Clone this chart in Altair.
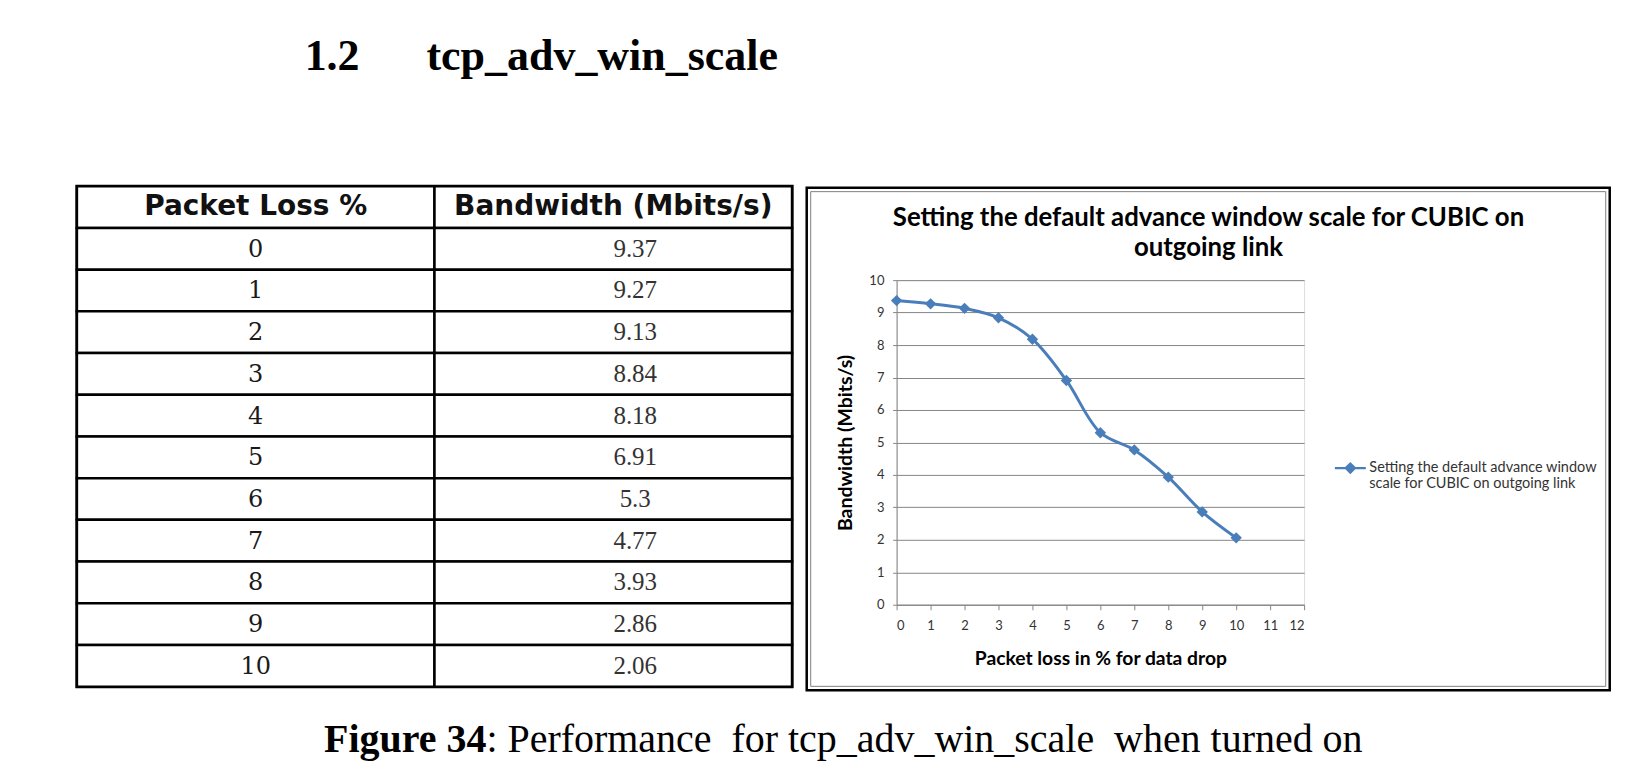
import altair as alt
import pandas as pd

# ---------------- data ----------------
HEADING_NUM = "1.2"
HEADING_TEXT = "tcp_adv_win_scale"
COL_KEYS = ["loss", "bw"]
COL_HEADERS = ["Packet Loss %", "Bandwidth (Mbits/s)"]
PACKET_LOSS = [0, 1, 2, 3, 4, 5, 6, 7, 8, 9, 10]
BANDWIDTH = [9.37, 9.27, 9.13, 8.84, 8.18, 6.91, 5.3, 4.77, 3.93, 2.86, 2.06]
CHART_TITLE = ["Setting the default advance window scale for CUBIC on", "outgoing link"]
SERIES_NAME = "Setting the default advance window scale for CUBIC on outgoing link"
X_TITLE = "Packet loss in % for data drop"
Y_TITLE = "Bandwidth (Mbits/s)"
X_TICKS = list(range(0, 13))
Y_TICKS = list(range(0, 11))
CAPTION_BOLD = "Figure 34"
CAPTION_REST = ": Performance\u00a0 for tcp_adv_win_scale\u00a0 when turned on"

BLUE = "#4A7EBB"
GRID = "#868686"

one = pd.DataFrame({"k": [0]})


def spacer(w, h):
    return alt.Chart(one).mark_text(opacity=0).encode(
        x=alt.value(0), y=alt.value(0), text=alt.value("")
    ).properties(width=w, height=h,
                 view=alt.ViewBackground(stroke="transparent", strokeWidth=0, fill="transparent"))


# ---------------- table (with page heading and caption around it) ----------------
row_keys = ["header"] + [str(v) for v in PACKET_LOSS]
cells = pd.DataFrame([{"row": r, "col": c} for r in row_keys for c in COL_KEYS])
hdr = pd.DataFrame({"row": ["header", "header"], "col": COL_KEYS, "text": COL_HEADERS})
body = pd.DataFrame(
    [{"row": str(l), "col": "loss", "text": str(l)} for l in PACKET_LOSS]
    + [{"row": str(l), "col": "bw", "text": str(b)} for l, b in zip(PACKET_LOSS, BANDWIDTH)]
)

tx = alt.X("col:N", scale=alt.Scale(domain=COL_KEYS, paddingInner=0, paddingOuter=0), axis=None)
ty = alt.Y("row:N", scale=alt.Scale(domain=row_keys, paddingInner=0, paddingOuter=0), axis=None)

canvas = alt.Chart(one).mark_rect(opacity=0).encode(
    x=alt.value(-67), x2=alt.value(1555), y=alt.value(-176), y2=alt.value(580))
cell_layer = alt.Chart(cells).mark_rect(fill="white", stroke="black", strokeWidth=2.5).encode(x=tx, y=ty)
hdr_layer = alt.Chart(hdr).mark_text(font="DejaVu Sans", fontSize=28, fontWeight="bold",
                                     color="#111", baseline="middle").encode(x=tx, y=ty, text="text:N")
c1_layer = alt.Chart(body).transform_filter(alt.datum.col == "loss").mark_text(
    font="DejaVu Serif", fontSize=24, color="#1a1a1a", baseline="middle", dy=1).encode(x=tx, y=ty, text="text:N")
c2_layer = alt.Chart(body).transform_filter(alt.datum.col == "bw").mark_text(
    font="Liberation Serif", fontSize=25, color="#333", baseline="middle", dx=22).encode(x=tx, y=ty, text="text:N")

head1 = alt.Chart(one).mark_text(font="Liberation Serif", fontSize=44, fontWeight="bold",
                                 align="left", baseline="alphabetic", color="black").encode(
    x=alt.value(228), y=alt.value(-116), text=alt.value(HEADING_NUM))
head2 = alt.Chart(one).mark_text(font="Liberation Serif", fontSize=44, fontWeight="bold",
                                 align="left", baseline="alphabetic", color="black").encode(
    x=alt.value(350), y=alt.value(-116), text=alt.value(HEADING_TEXT))
cap1 = alt.Chart(one).mark_text(font="Liberation Serif", fontSize=40, fontWeight="bold",
                                align="right", baseline="alphabetic", color="black").encode(
    x=alt.value(410), y=alt.value(566), text=alt.value(CAPTION_BOLD))
cap2 = alt.Chart(one).mark_text(font="Liberation Serif", fontSize=40, align="left",
                                baseline="alphabetic", color="black").encode(
    x=alt.value(410), y=alt.value(566), text=alt.value(CAPTION_REST))

table = alt.layer(canvas, cell_layer, hdr_layer, c1_layer, c2_layer, head1, head2, cap1, cap2).properties(
    width=716, height=501, view=alt.ViewBackground(stroke="black", strokeWidth=3))

# ---------------- line chart ----------------
df = pd.DataFrame({"loss": PACKET_LOSS, "bw": BANDWIDTH, "series": [SERIES_NAME] * len(PACKET_LOSS)})

x = alt.X("loss:Q", scale=alt.Scale(domain=[0, 12], nice=False),
          axis=alt.Axis(values=X_TICKS, title=X_TITLE, grid=False, format="d",
                        labelFont="Lato", labelFontSize=13, labelColor="#333",
                        tickColor=GRID, domainColor=GRID, tickSize=5, labelPadding=10,
                        titleFont="Lato", titleFontSize=19.3, titleFontWeight="bold", titleColor="black",
                        titleX=204, titleY=53.7, titleBaseline="middle"))
y = alt.Y("bw:Q", scale=alt.Scale(domain=[0, 10], nice=False),
          axis=alt.Axis(values=Y_TICKS, title=Y_TITLE, grid=True, gridColor=GRID, gridWidth=1,
                        format="d", labelFont="Lato", labelFontSize=13, labelColor="#333",
                        tickColor=GRID, domainColor=GRID, tickSize=4, labelPadding=8.7,
                        titleFont="Lato", titleFontSize=19.5, titleFontWeight="bold", titleColor="black",
                        titleX=-50.7, titleY=162.5, titleBaseline="middle", titleAngle=270))

legend_path = "M-1,0L1,0M-0.3,0L0,-0.3L0.3,0L0,0.3Z"
color = alt.Color("series:N", scale=alt.Scale(range=[BLUE]),
                  legend=alt.Legend(title=None, orient="none", legendX=1258, legendY=265.2,
                                    symbolType=legend_path, symbolSize=961, symbolStrokeWidth=2.2,
                                    symbolFillColor=BLUE, symbolStrokeColor=BLUE,
                                    labelFont="Lato", labelFontSize=14.5, labelColor="#333",
                                    labelOffset=2, labelLimit=400, padding=0,
                                    labelExpr="[substring(datum.label, 0, indexof(datum.label, ' scale')), "
                                              "substring(datum.label, indexof(datum.label, ' scale') + 1)]"))

frame_outer = alt.Chart(one).mark_rect(fillOpacity=0, stroke="black", strokeWidth=2.5).encode(
    x=alt.value(-90), x2=alt.value(714), y=alt.value(-92.6), y2=alt.value(410.7))
frame_inner = alt.Chart(one).mark_rect(fillOpacity=0, stroke="#7f7f7f", strokeWidth=1).encode(
    x=alt.value(-86), x2=alt.value(710), y=alt.value(-88.6), y2=alt.value(406.7))
title_layer = alt.Chart(one).mark_text(font="Lato", fontSize=25.8, fontWeight="bold", color="black",
                                       align="center", baseline="middle", lineHeight=30).encode(
    x=alt.value(312.3), y=alt.value(-62.3), text=alt.value(CHART_TITLE))

line = alt.Chart(df).mark_line(interpolate="catmull-rom", strokeWidth=3).encode(x=x, y=y, color=color)
pts = alt.Chart(df).mark_point(shape="diamond", filled=True, size=130, opacity=1, color=BLUE).encode(x=x, y=y)

chart = alt.layer(frame_outer, frame_inner, title_layer, line, pts).properties(width=408, height=325)

final = alt.hconcat(
    table,
    alt.vconcat(spacer(10, 93.3), chart, spacing=0, bounds="flush"),
    spacing=104.7, bounds="flush"
).properties(padding=0, background="white").configure_view(strokeWidth=0).configure(
    style={"guide-label": {"lineHeight": 16}})

final.save("out.html", embed_options={"renderer": "svg", "actions": False})
